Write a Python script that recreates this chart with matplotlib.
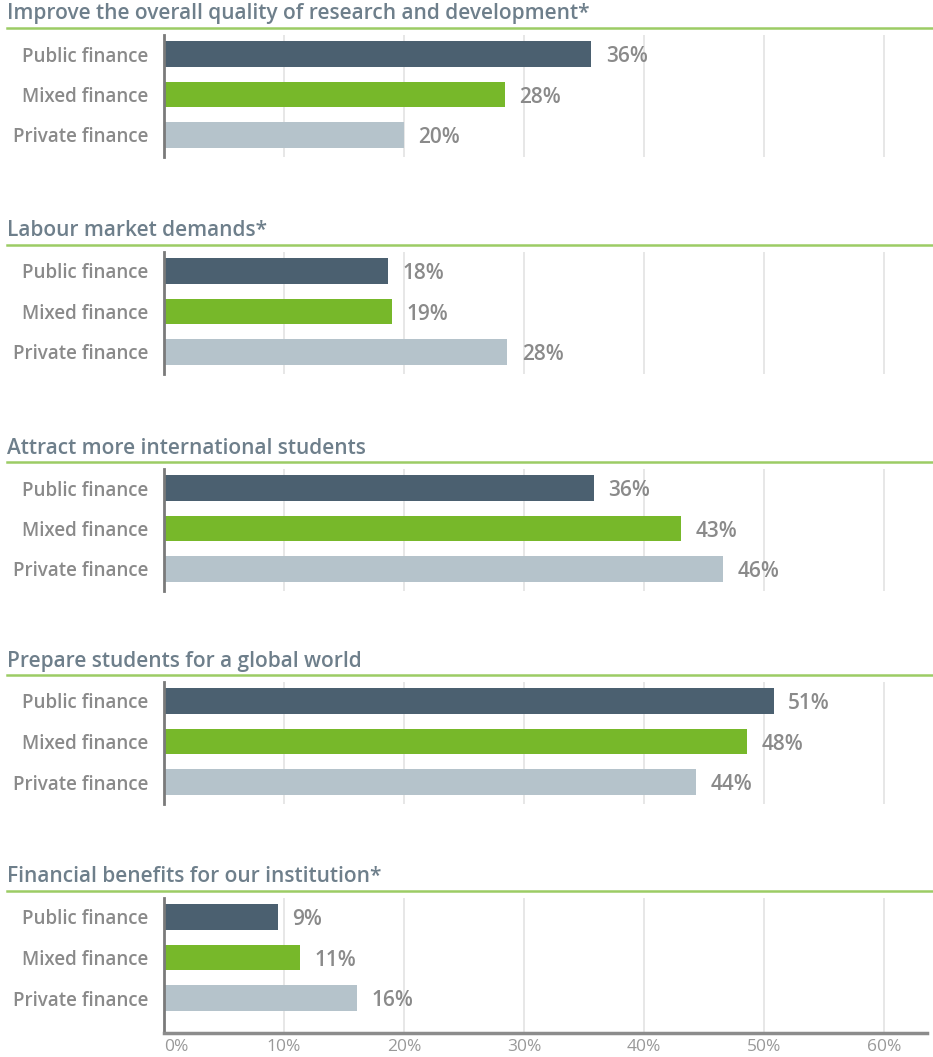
import matplotlib.pyplot as plt

# data
titles = [
    'Improve the overall quality of research and development*',
    'Labour market demands*',
    'Attract more international students',
    'Prepare students for a global world',
    'Financial benefits for our institution*',
]
categories = ['Public finance', 'Mixed finance', 'Private finance']
public_vals = [35.6, 18.7, 35.8, 50.8, 9.5]
mixed_vals = [28.4, 19.0, 43.1, 48.6, 11.3]
private_vals = [20.0, 28.6, 46.6, 44.3, 16.1]
public_labels = ['36%', '18%', '36%', '51%', '9%']
mixed_labels = ['28%', '19%', '43%', '48%', '11%']
private_labels = ['20%', '28%', '46%', '44%', '16%']
xticks = [0, 10, 20, 30, 40, 50, 60]
xtick_labels = ['0%', '10%', '20%', '30%', '40%', '50%', '60%']

colors = ['#4b6070', '#77b82a', '#b5c3cb']
TITLE_C = '#6e7f8b'
TEXT_C = '#8a8a8a'
LINE_C = '#9ccc65'

W, H = 933, 1057
plt.rcParams['font.family'] = ['Open Sans', 'DejaVu Sans']

fig = plt.figure(figsize=(W / 100, H / 100), dpi=100)

bar0_px = [54, 271, 488, 701, 917]   # first bar centre of each panel
x0_px, x1_px = 164, 927
px_per_pct = 12.0
xmax = (x1_px - x0_px) / px_per_pct

for i, title in enumerate(titles):
    last = i == len(titles) - 1
    top = bar0_px[i] - 19
    height = 135 if last else 122
    bottom = top + height
    ax = fig.add_axes([x0_px / W, 1 - bottom / H, (x1_px - x0_px) / W, height / H])

    vals = [public_vals[i], mixed_vals[i], private_vals[i]]
    labs = [public_labels[i], mixed_labels[i], private_labels[i]]
    ax.barh(range(3), vals, height=0.64, color=colors, zorder=2)
    for y, (v, lab) in enumerate(zip(vals, labs)):
        ax.annotate(lab, (v, y), xytext=(10.5, -2), textcoords='offset points',
                    va='center', ha='left', fontsize=15, color=TEXT_C,
                    fontweight='semibold')

    ax.set_xlim(0, xmax)
    ax.set_ylim(2 + (height - 19 - 81) / 40.5, -19 / 40.5)
    ax.set_xticks(xticks)
    ax.grid(axis='x', color='#e3e3e3', linewidth=1.2, zorder=0)
    ax.set_axisbelow(True)
    ax.set_yticks(range(3))
    ax.set_yticklabels(categories, fontsize=13.5, color=TEXT_C,
                       fontweight='semibold')
    ax.tick_params(axis='y', length=0, pad=11)
    for s in ['top', 'right']:
        ax.spines[s].set_visible(False)
    ax.spines['left'].set_color('#7a7a7a')
    ax.spines['left'].set_linewidth(2)
    if last:
        ax.spines['bottom'].set_color('#8c8c8c')
        ax.spines['bottom'].set_linewidth(2.5)
        ax.set_xticklabels(xtick_labels, fontsize=12.5, color='#999999')
        ax.get_xticklabels()[0].set_ha('left')
        ax.tick_params(axis='x', length=0, pad=4)
    else:
        ax.spines['bottom'].set_visible(False)
        ax.tick_params(axis='x', length=0, labelbottom=False)

    line_y = bar0_px[i] - 26
    fig.text(7 / W, 1 - (line_y - 8.5) / H, title, fontsize=15,
             color=TITLE_C, fontweight='semibold', va='baseline', ha='left')
    fig.add_artist(plt.Line2D([7 / W, 1], [1 - line_y / H] * 2,
                              color=LINE_C, linewidth=1.8))

fig.savefig('out.png', dpi=100)
